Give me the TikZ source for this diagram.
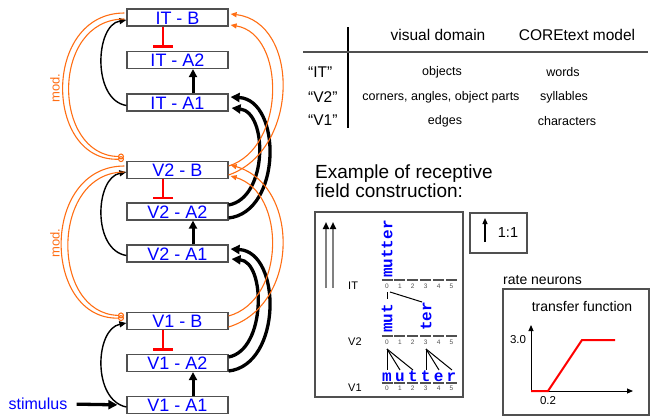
\documentclass[tikz,border=0pt]{standalone}
\usepackage{fontspec}
\setmainfont{Liberation Sans}
\setmonofont{Liberation Mono}
\usetikzlibrary{arrows.meta,calc}
\definecolor{orng}{RGB}{255,110,20}
\definecolor{bgray}{RGB}{80,80,80}
\definecolor{lblue}{RGB}{0,0,255}
\newcommand{\fs}[1]{\fontsize{#1}{#1}\selectfont}
\tikzset{
  area/.style={draw=bgray, line width=1.2pt, fill=white, minimum width=101pt, minimum height=17pt,
    inner sep=0pt, text height=13pt, text depth=0pt, font=\fs{18}, text=lblue},
  upar/.style={line width=3pt, -{Triangle[length=8pt,width=8pt]}},
  curv/.style={line width=1.4pt, -{Triangle[length=7pt,width=6pt]}},
  fb/.style={line width=3.3pt, -{Triangle[length=9pt,width=9pt]}},
  orar/.style={draw=orng, line width=1.1pt, -{Triangle[length=6pt,width=5pt,color=orng]}},
  modl/.style={draw=orng, line width=1.1pt, -{Circle[open,length=6pt,width=6pt,color=orng]}},
  inh/.style={draw=red, line width=2.5pt, -{Bar[width=20pt]}},
  lbl/.style={inner sep=0pt},
  mono/.style={font=\fs{16}\ttfamily\bfseries, text=lblue, inner sep=0pt},
}
\begin{document}
\begin{tikzpicture}[x=1pt,y=-1pt]
\useasboundingbox (0,0) rectangle (653,416);

% ---------- boxes ----------
\node[area] (itb)  at (177.5,17.5)  {IT - B};
\node[area] (ita2) at (177.5,60)    {IT - A2};
\node[area] (ita1) at (177.5,102.5) {IT - A1};
\node[area] (v2b)  at (177.5,170)   {V2 - B};
\node[area] (v2a2) at (177.5,211.5) {V2 - A2};
\node[area] (v2a1) at (177.5,253.5) {V2 - A1};
\node[area] (v1b)  at (177.5,321)   {V1 - B};
\node[area] (v1a2) at (177.5,363)   {V1 - A2};
\node[area] (v1a1) at (177.5,405)   {V1 - A1};

% inhibition
\draw[inh] ([xshift=-14.5pt]itb.south) -- ([xshift=-14.5pt,yshift=3pt]ita2.north);
\draw[inh] ([xshift=-14.5pt]v2b.south) -- ([xshift=-14.5pt,yshift=3pt]v2a2.north);
\draw[inh] ([xshift=-14.5pt]v1b.south) -- ([xshift=-14.5pt,yshift=3pt]v1a2.north);

% straight feedforward
\draw[upar] ([xshift=15.5pt]ita1.north) -- ([xshift=15.5pt]ita2.south);
\draw[upar] ([xshift=15.5pt]v2a1.north) -- ([xshift=15.5pt]v2a2.south);
\draw[upar] ([xshift=15.5pt]v1a1.north) -- ([xshift=15.5pt]v1a2.south);

% left thin arcs A1 -> B
\draw[curv] ($(ita1.west)+(0,3)$) .. controls (92,100) and (95,25) .. ($(itb.west)+(0,2.5)$);
\draw[curv] ($(v2a1.west)+(0,2)$) .. controls (92,250) and (95,178) .. ($(v2b.west)+(0,2)$);
\draw[curv] ($(v1a1.west)+(0,2)$) .. controls (92,400) and (95,329) .. ($(v1b.west)+(0,2)$);

% thick right arcs A2 -> A1 (next level)
\draw[fb] ($(v2a2.east)+(0,6.5)$) .. controls (282,212) and (282,100) .. ($(ita1.east)+(2,-5.5)$);
\draw[fb] ($(v2a2.east)+(0,-6.5)$) .. controls (268,198) and (268,112) .. ($(ita1.east)+(3,5.5)$);
\draw[fb] ($(v1a2.east)+(0,8)$) .. controls (282,365) and (282,252) .. ($(v2a1.east)+(2,-4.5)$);
\draw[fb] ($(v1a2.east)+(0,-6)$) .. controls (266,350) and (266,262) .. ($(v2a1.east)+(3,5.5)$);

% orange right arcs B -> B
\draw[orar] ($(v2b.east)+(0,5)$) .. controls (300,150) and (300,22) .. ($(itb.east)+(2,-3.5)$);
\draw[orar] ($(v2b.east)+(0,-4)$) .. controls (286,148) and (286,34) .. ($(itb.east)+(2,7.5)$);
\draw[orar] ($(v1b.east)+(0,6)$) .. controls (300,305) and (300,185) .. ($(v2b.east)+(2,-5)$);
\draw[orar] ($(v1b.east)+(0,-5)$) .. controls (286,300) and (286,192) .. ($(v2b.east)+(2,6)$);

% orange modulatory arcs (left)
\coordinate (m2a) at (124,159);
\coordinate (m2b) at (124,156.5);
\coordinate (m1a) at (124,318);
\coordinate (m1b) at (124,315.5);
\draw[modl] ($(itb.west)+(-2,-4.5)$) .. controls (42,13) and (44,162) .. (m2a);
\draw[modl] ($(itb.west)+(-2,1.5)$) .. controls (50,19) and (52,156) .. (m2b);
\draw[modl] ($(v2b.west)+(-2,-4)$) .. controls (40,166) and (42,320) .. (m1a);
\draw[modl] ($(v2b.west)+(-2,2)$) .. controls (50,172) and (50,314) .. (m1b);
\node[lbl, rotate=90, text=orng, font=\fs{13}] (mod1) at (55,88) {mod.};
\node[lbl, rotate=90, text=orng, font=\fs{13}] (mod2) at (55,243) {mod.};

% stimulus
\node[lbl, text=lblue, font=\fs{16}] (stim) at (38,404) {stimulus};
\draw[line width=3.3pt, -{Triangle[length=9pt,width=9pt]}, shorten <=9pt, shorten >=9pt] (stim.east) -- (v1a1.west);

% ---------- table ----------
\draw[line width=1.2pt] (348,27) -- (348,128);
\draw[line width=1.2pt, draw=bgray] (303,52) -- (648,52);
\node[lbl, font=\fs{15.5}] (h1) at (438,35) {visual domain};
\node[lbl, font=\fs{15.5}] (h2) at (577,35) {COREtext model};
\node[lbl, font=\fs{15.5}, anchor=west] (r1) at (308,72) {“IT”};
\node[lbl, font=\fs{15.5}, anchor=west] (r2) at (308,97) {“V2”};
\node[lbl, font=\fs{15.5}, anchor=west] (r3) at (308,120) {“V1”};
\node[lbl, font=\fs{12.5}] (c11) at (442,72) {objects};
\node[lbl, font=\fs{12.5}] (c21) at (441,97) {corners, angles, object parts};
\node[lbl, font=\fs{12.5}] (c31) at (445,121) {edges};
\node[lbl, font=\fs{12.5}] (c12) at (563,72) {words};
\node[lbl, font=\fs{12.5}] (c22) at (564,97) {syllables};
\node[lbl, font=\fs{12.5}] (c32) at (567,121) {characters};

% ---------- receptive field ----------
\node[lbl, font=\fs{19}\setlength{\baselineskip}{17.5pt}, align=left, anchor=north west] (ex) at (315,165)
  {Example of receptive\\field construction:};
\draw[line width=1.2pt, draw=bgray] (315,212) rectangle (463,397);
\draw[line width=2pt, draw=gray, -{Triangle[length=7pt,width=6pt,color=black]}] (326,288) -- (326,222);
\draw[line width=2pt, draw=gray, -{Triangle[length=7pt,width=6pt,color=black]}] (333,288) -- (333,222);
\node[lbl, font=\fs{11}, anchor=west] (lit) at (348,286) {IT};
\node[lbl, font=\fs{11}, anchor=west] (lv2) at (348,342) {V2};
\node[lbl, font=\fs{11}, anchor=west] (lv1) at (348,388) {V1};
\foreach \yy/\ny in {280/286, 336/342, 383/388}{
  \foreach \i in {0,...,5}{
    \draw[bgray, line width=1.5pt] ({387+12.9*\i-5.5},\yy) -- ({387+12.9*\i+5.5},\yy);
    \node[lbl, font=\fs{6.5}, text=bgray] at ({387+12.9*\i},\ny) {\i};
  }
}
\node[mono, rotate=90, anchor=west] (wit) at (387,278) {mutter};
\node[mono, rotate=90, anchor=west] (wmut) at (387,333) {mut};
\node[mono, rotate=90, anchor=west] (wter) at (426,331) {ter};
\foreach \ch [count=\k from 0] in {m,u,t,t,e,r}{
  \node[mono, anchor=base] (l\k) at ({387+12.9*\k},381) {\ch};
}
\draw[line width=1pt] (387,292) -- (387,299);
\draw[line width=1pt] (390,292) -- (422,302);
\foreach \tx in {387,400,413}{\draw[line width=1pt] (387,349) -- (\tx,370);}
\foreach \tx in {426,439,452}{\draw[line width=1pt] (426,349) -- (\tx,370);}

% 1:1 box
\draw[line width=1.2pt, draw=bgray] (470,213) rectangle (527,253);
\draw[line width=1.2pt, -{Triangle[length=6pt,width=5pt]}] (485,242) -- (485,218);
\node[lbl, font=\fs{14.5}] (one) at (508,233) {1:1};

% ---------- transfer function ----------
\node[lbl, font=\fs{14}, anchor=west] (rn) at (503,280) {rate neurons};
\draw[line width=1.2pt, draw=bgray] (503,289) rectangle (649,415);
\node[lbl, font=\fs{14}] (tf) at (582,306) {transfer function};
\draw[line width=1pt, -{Triangle[length=6pt,width=5pt]}] (531,391) -- (531,325);
\draw[line width=1pt, -{Triangle[length=6pt,width=5pt]}] (531,391) -- (633,391);
\draw[red, line width=2pt] (531,391) -- (548,391) -- (582,340) -- (615,340);
\node[lbl, font=\fs{11.5}] (t30) at (518,340) {3.0};
\node[lbl, font=\fs{11.5}] (t02) at (548,401) {0.2};
\end{tikzpicture}
\end{document}
